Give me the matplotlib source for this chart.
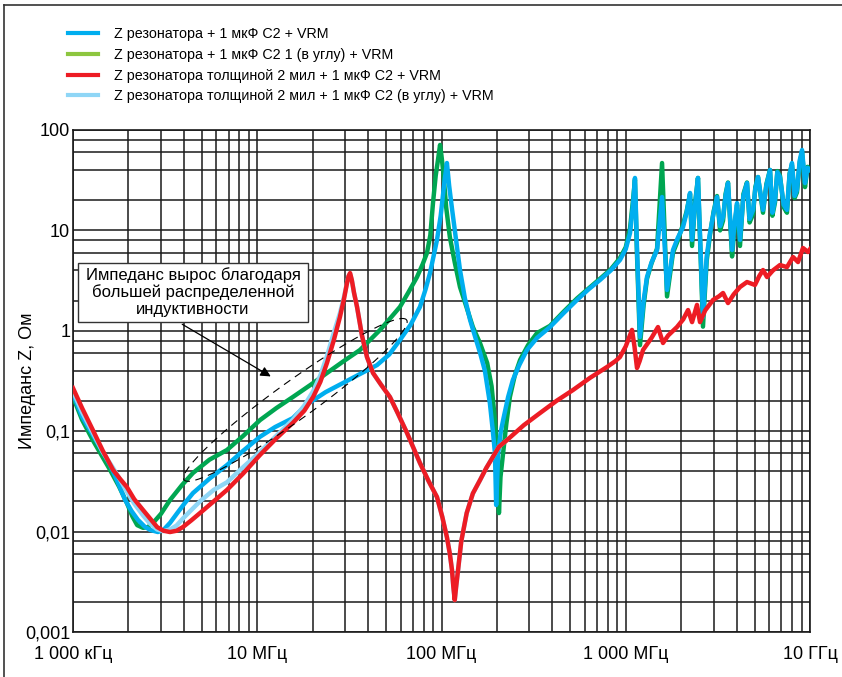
import numpy as np
import matplotlib
matplotlib.use("Agg")
import matplotlib.pyplot as plt
from matplotlib.ticker import LogLocator, FixedLocator, FixedFormatter, NullFormatter
from matplotlib.lines import Line2D
from matplotlib.patches import Rectangle

plt.rcParams['font.family'] = ['Liberation Sans', 'DejaVu Sans']

# --- данные (частота в МГц, импеданс в Ом) ---
f_blue = [1.0, 1.12, 1.28, 1.45, 1.59, 1.75, 1.92, 2.08, 2.25, 2.45, 2.62, 2.89, 3.1, 3.36,
          3.7, 4.05, 4.48, 5.54, 6.85, 8.4, 10.35, 12.5, 15.6, 18.6, 23.5, 29.2, 36.0, 44.7,
          52.0, 59.5, 68.0, 76.4, 82.0, 86.6, 90.5, 94.5, 99.0, 104, 107, 110, 114, 120, 126,
          134, 143, 152, 162, 172, 183, 190, 195, 198, 203, 210, 216, 230, 244, 265, 291,
          330, 388, 460, 544, 630, 725, 830, 930, 1000, 1055, 1095, 1122, 1150, 1195, 1250,
          1304, 1380, 1479, 1574, 1675, 1805, 1920, 2046, 2140, 2233, 2290, 2380, 2466,
          2625, 2750, 2865, 3000, 3129, 3250, 3373, 3480, 3589, 3776, 3900, 4018, 4169,
          4350, 4550, 4700, 4909, 5050, 5222, 5558, 5800, 6067, 6250, 6457, 6650, 6873,
          7200, 7499, 7750, 7983, 8250, 8497, 8800, 9055, 9393, 9700, 10000]
z_blue = [0.235, 0.14, 0.092, 0.062, 0.046, 0.031, 0.0206, 0.016, 0.0131, 0.0112, 0.0104,
          0.0099, 0.0104, 0.0122, 0.0155, 0.0193, 0.0242, 0.034, 0.046, 0.064, 0.088,
          0.11, 0.135, 0.185, 0.245, 0.302, 0.37, 0.456, 0.58, 0.81, 1.15, 1.73, 2.6, 3.76,
          5.5, 8.02, 14.0, 31.8, 46.9, 28.0, 16.5, 8.0, 4.03, 2.1, 1.28, 0.88, 0.601, 0.4,
          0.191, 0.1, 0.0607, 0.0184, 0.06, 0.1, 0.129, 0.22, 0.324, 0.46, 0.644, 0.85,
          1.09, 1.5, 2.03, 2.6, 3.21, 4.0, 5.07, 6.5, 9.42, 18.0, 33.3, 7.0, 0.867, 2.0,
          3.43, 4.8, 6.38, 21.5, 2.55, 6.38, 8.5, 10.8, 15.0, 23.6, 8.02, 18.0, 33.3, 1.37,
          5.5, 9.42, 15.0, 21.5, 11.0, 13.6, 22.0, 29.6, 6.38, 12.0, 18.7, 8.02, 22.0, 29.6,
          13.0, 16.0, 26.0, 34.0, 16.0, 28.0, 40.0, 15.0, 20.1, 38.0, 34.0, 18.0, 16.0,
          36.0, 46.9, 22.0, 25.3, 50.0, 63.2, 29.6, 42.0, 40.0]

f_green = [1.0, 1.12, 1.28, 1.45, 1.59, 1.78, 1.96, 2.1, 2.23, 2.40, 2.55, 2.72, 3.0, 3.36,
           3.9, 4.48, 5.5, 6.85, 8.4, 10.35, 12.7, 15.6, 19.5, 23.9, 29.5, 36.1, 46.4, 53.0,
           59.5, 66.0, 73.6, 79.0, 83.4, 87.0, 89.9, 93.0, 95.7, 98.2, 100, 102, 106, 111,
           118, 126, 137, 148, 162, 177, 187, 195, 200, 203, 205, 209, 216, 225, 235, 250,
           267, 295, 330, 388, 460, 544, 630, 725, 830, 930, 1000, 1055, 1095, 1122, 1150,
           1195, 1250, 1304, 1380, 1479, 1574, 1675, 1805, 1920, 2046, 2140, 2233, 2290,
           2380, 2466, 2625, 2750, 2865, 3000, 3129, 3250, 3373, 3480, 3589, 3776, 3900,
           4018, 4169, 4350, 4550, 4700, 4909, 5050, 5222, 5558, 5800, 6067, 6250, 6457,
           6650, 6873, 7200, 7499, 7750, 7983, 8250, 8497, 8800, 9055, 9393, 9700, 10000]
z_green = [0.219, 0.13, 0.0817, 0.055, 0.0411, 0.028, 0.0193, 0.0142, 0.0116, 0.0109,
           0.0111, 0.0122, 0.015, 0.0206, 0.029, 0.0384, 0.052, 0.065, 0.09, 0.129, 0.17,
           0.219, 0.29, 0.38, 0.5, 0.644, 1.02, 1.35, 1.73, 2.4, 3.43, 4.6, 5.96, 9.0,
           18.7, 35.0, 50.3, 71.0, 55.0, 40.0, 17.0, 8.59, 4.8, 2.73, 1.7, 1.09, 0.75,
           0.478, 0.28, 0.129, 0.07, 0.0411, 0.0153, 0.035, 0.0607, 0.12, 0.219, 0.36,
           0.512, 0.72, 0.95, 1.12, 1.55, 2.1, 2.65, 3.3, 4.1, 5.3, 6.8, 10.5, 20.0, 32.0,
           6.0, 0.72, 1.8, 3.3, 4.7, 6.6, 46.9, 2.2, 6.0, 8.0, 11.5, 15.5, 23.0, 7.0,
           19.0, 33.3, 1.1, 5.0, 9.0, 15.5, 22.0, 10.0, 12.5, 23.0, 30.0, 5.5, 11.0, 18.0,
           7.0, 23.0, 30.0, 12.0, 14.5, 27.0, 34.0, 15.0, 29.0, 40.0, 14.0, 19.0, 39.0,
           35.0, 17.0, 15.0, 37.0, 45.0, 21.0, 24.0, 48.0, 60.0, 27.0, 43.0, 40.0]

f_red = [1.0, 1.12, 1.28, 1.45, 1.65, 1.8, 1.96, 2.15, 2.40, 2.62, 2.86, 3.1, 3.36, 3.65,
         3.95, 4.4, 4.89, 5.8, 6.85, 8.4, 10.35, 12.7, 15.6, 18.0, 20.1, 22.0, 23.9, 26.0,
         28.1, 29.6, 30.7, 31.3, 31.9, 32.6, 33.5, 34.8, 37.0, 39.4, 42.5, 47.0, 52.5, 58.0,
         65.0, 70.0, 76.4, 85.0, 94.5, 101, 107, 111, 114, 116, 118, 120, 123, 128, 137,
         148, 162, 175, 190, 205, 227, 280, 343, 420, 517, 640, 791, 880, 930, 1000, 1081,
         1115, 1151, 1190, 1241, 1380, 1496, 1593, 1700, 1897, 2050, 2178, 2290, 2436,
         2529, 2700, 2977, 3200, 3373, 3589, 3850, 4169, 4550, 5027, 5300, 5558, 5845,
         6300, 6873, 7499, 8090, 8610, 9162, 9753, 10000]
z_red = [0.269, 0.17, 0.103, 0.064, 0.0411, 0.0335, 0.0278, 0.021, 0.0164, 0.0135, 0.0111,
         0.0102, 0.0099, 0.0102, 0.0111, 0.013, 0.0153, 0.02, 0.026, 0.038, 0.058, 0.085,
         0.121, 0.16, 0.219, 0.31, 0.478, 0.8, 1.37, 2.1, 2.99, 3.5, 3.76, 3.2, 2.4, 1.73,
         0.9, 0.548, 0.38, 0.29, 0.219, 0.15, 0.096, 0.07, 0.0482, 0.032, 0.0221, 0.014,
         0.0088, 0.006, 0.00415, 0.0028, 0.00208, 0.0028, 0.00415, 0.008, 0.0153, 0.024,
         0.0327, 0.043, 0.0553, 0.07, 0.0817, 0.115, 0.152, 0.2, 0.257, 0.34, 0.436, 0.5,
         0.548, 0.7, 1.02, 0.7, 0.426, 0.5, 0.644, 0.85, 1.09, 0.756, 0.9, 1.09, 1.3, 1.61,
         1.22, 1.81, 1.22, 1.6, 2.03, 2.2, 2.38, 1.89, 2.3, 2.73, 3.06, 2.86, 3.5, 4.03,
         3.43, 4.0, 4.52, 4.31, 5.43, 4.84, 6.68, 6.09, 6.5]

f_lblue = [1.0, 1.12, 1.28, 1.45, 1.65, 1.8, 1.96, 2.15, 2.40, 2.62, 2.86, 3.08, 3.36, 3.65,
           3.95, 4.4, 4.89, 5.8, 6.85, 8.4, 10.35, 12.7, 15.6, 18.0, 20.1, 22.0, 23.9, 26.0,
           28.1, 29.6, 30.7, 31.3, 31.9, 32.6, 33.5, 34.8, 37.0, 39.4, 42.5, 47.0, 52.5,
           58.0, 65.0, 70.0, 76.4, 85.0, 94.5, 101, 107, 111, 114, 116, 118, 120, 123, 128,
           137, 148, 162, 175, 190, 205, 227]
z_lblue = [0.25, 0.155, 0.097, 0.062, 0.043, 0.033, 0.025, 0.019, 0.0145, 0.012, 0.0105,
           0.0101, 0.0105, 0.0115, 0.0135, 0.0165, 0.020, 0.026, 0.031, 0.044, 0.062, 0.09,
           0.13, 0.18, 0.25, 0.36, 0.56, 0.95, 1.5, 2.2, 3.0, 3.5, 3.7, 3.2, 2.4, 1.73, 0.9,
           0.548, 0.38, 0.29, 0.219, 0.15, 0.096, 0.07, 0.0482, 0.032, 0.0221, 0.014, 0.0088,
           0.006, 0.00415, 0.0028, 0.00208, 0.0028, 0.00415, 0.008, 0.0153, 0.024, 0.0327,
           0.043, 0.0553, 0.07, 0.0817]

legend_labels = [
    "Z резонатора + 1 мкФ C2 + VRM",
    "Z резонатора + 1 мкФ C2 1 (в углу) + VRM",
    "Z резонатора толщиной 2 мил + 1 мкФ C2 + VRM",
    "Z резонатора толщиной 2 мил + 1 мкФ C2 (в углу) + VRM",
]
x_ticks = [1e6, 1e7, 1e8, 1e9, 1e10]
x_ticklabels = ["1 000 кГц", "10 МГц", "100 МГц", "1 000 МГц", "10 ГГц"]
y_ticks = [0.001, 0.01, 0.1, 1, 10, 100]
y_ticklabels = ["0,001", "0,01", "0,1", "1", "10", "100"]

C_BLUE = "#00aeef"
C_GREEN = "#00a651"
C_GREEN_LEG = "#8dc63f"
C_RED = "#ed1c24"
C_LBLUE = "#8fd6f6"

fig = plt.figure(figsize=(8.42, 6.77), dpi=100)
ax = fig.add_axes([73 / 842, 45 / 677, 737 / 842, 502 / 677])

lw = 3.2
ax.plot(np.array(f_green) * 1e6, z_green, color=C_GREEN, lw=lw, solid_joinstyle='round', zorder=3)
ax.plot(np.array(f_blue) * 1e6, z_blue, color=C_BLUE, lw=lw, solid_joinstyle='round', zorder=4)
ax.plot(np.array(f_lblue) * 1e6, z_lblue, color=C_LBLUE, lw=lw, solid_joinstyle='round', zorder=5)
ax.plot(np.array(f_red) * 1e6, z_red, color=C_RED, lw=lw, solid_joinstyle='round', zorder=6)

ax.set_xscale('log')
ax.set_yscale('log')
ax.set_xlim(1e6, 1e10)
ax.set_ylim(0.001, 100)

ax.xaxis.set_major_locator(FixedLocator(x_ticks))
ax.xaxis.set_major_formatter(FixedFormatter(x_ticklabels))
ax.xaxis.set_minor_locator(LogLocator(base=10, subs=np.arange(2, 10), numticks=20))
ax.xaxis.set_minor_formatter(NullFormatter())
ax.yaxis.set_major_locator(FixedLocator(y_ticks))
ax.yaxis.set_major_formatter(FixedFormatter(y_ticklabels))
ax.yaxis.set_minor_locator(LogLocator(base=10, subs=[2, 4, 6, 8], numticks=20))
ax.yaxis.set_minor_formatter(NullFormatter())

ax.grid(True, which='both', color='#1a1a1a', lw=1.1)
ax.tick_params(which='both', length=0)
ax.tick_params(axis='x', labelsize=13, pad=10)
ax.tick_params(axis='y', labelsize=13, pad=2)
for s in ax.spines.values():
    s.set_color('#1a1a1a')
    s.set_linewidth(1.2)
ax.set_axisbelow(True)
ax.set_ylabel("Импеданс Z, Ом", fontsize=13)
ax.yaxis.set_label_coords(-0.05, 0.5)

# аннотация
ax.add_patch(Rectangle((5 / 737, 310 / 502), 230 / 737, 59 / 502, transform=ax.transAxes,
                       fc='white', ec='#333333', lw=1, zorder=8))
ax.text(120 / 737, 340 / 502, "Импеданс вырос благодаря\nбольшей распределенной\nиндуктивности",
        transform=ax.transAxes, ha='center', va='center', fontsize=12, linespacing=1.1,
        zorder=9)
ax.annotate("", xy=(12.2e6, 0.34), xytext=(3.8e6, 1.2),
            arrowprops=dict(arrowstyle='-|>', color='black', lw=0.9, mutation_scale=15),
            zorder=8)

# пунктирный эллипс (в пикселях на декаду)
px_dec_x = 737 / 4
px_dec_y = 502 / 5
cx, cy = np.log10(16.1e6), np.log10(0.205)
a, b, th = 137, 19, np.deg2rad(35.7)
t = np.linspace(0, 2 * np.pi, 200)
ex = a * np.cos(t) * np.cos(th) - b * np.sin(t) * np.sin(th)
ey = a * np.cos(t) * np.sin(th) + b * np.sin(t) * np.cos(th)
ax.plot(10 ** (cx + ex / px_dec_x), 10 ** (cy + ey / px_dec_y), color='black', lw=0.8,
        dashes=(7, 5), zorder=7)

# легенда
handles = [Line2D([], [], color=c, lw=3) for c in [C_BLUE, C_GREEN_LEG, C_RED, C_LBLUE]]
fig.legend(handles, legend_labels, loc='upper left', bbox_to_anchor=(55 / 842, 1 - 14 / 677),
           frameon=False, fontsize=10.3, handlelength=2.1, handletextpad=1.1,
           labelspacing=0.48)

# рамка
fig.add_artist(Line2D([4 / 842, 4 / 842], [0, 1 - 5 / 677], color='#333333', lw=1.2))
fig.add_artist(Line2D([4 / 842, 1], [1 - 5 / 677, 1 - 5 / 677], color='#333333', lw=1.2))

fig.savefig("out.png", dpi=100)
